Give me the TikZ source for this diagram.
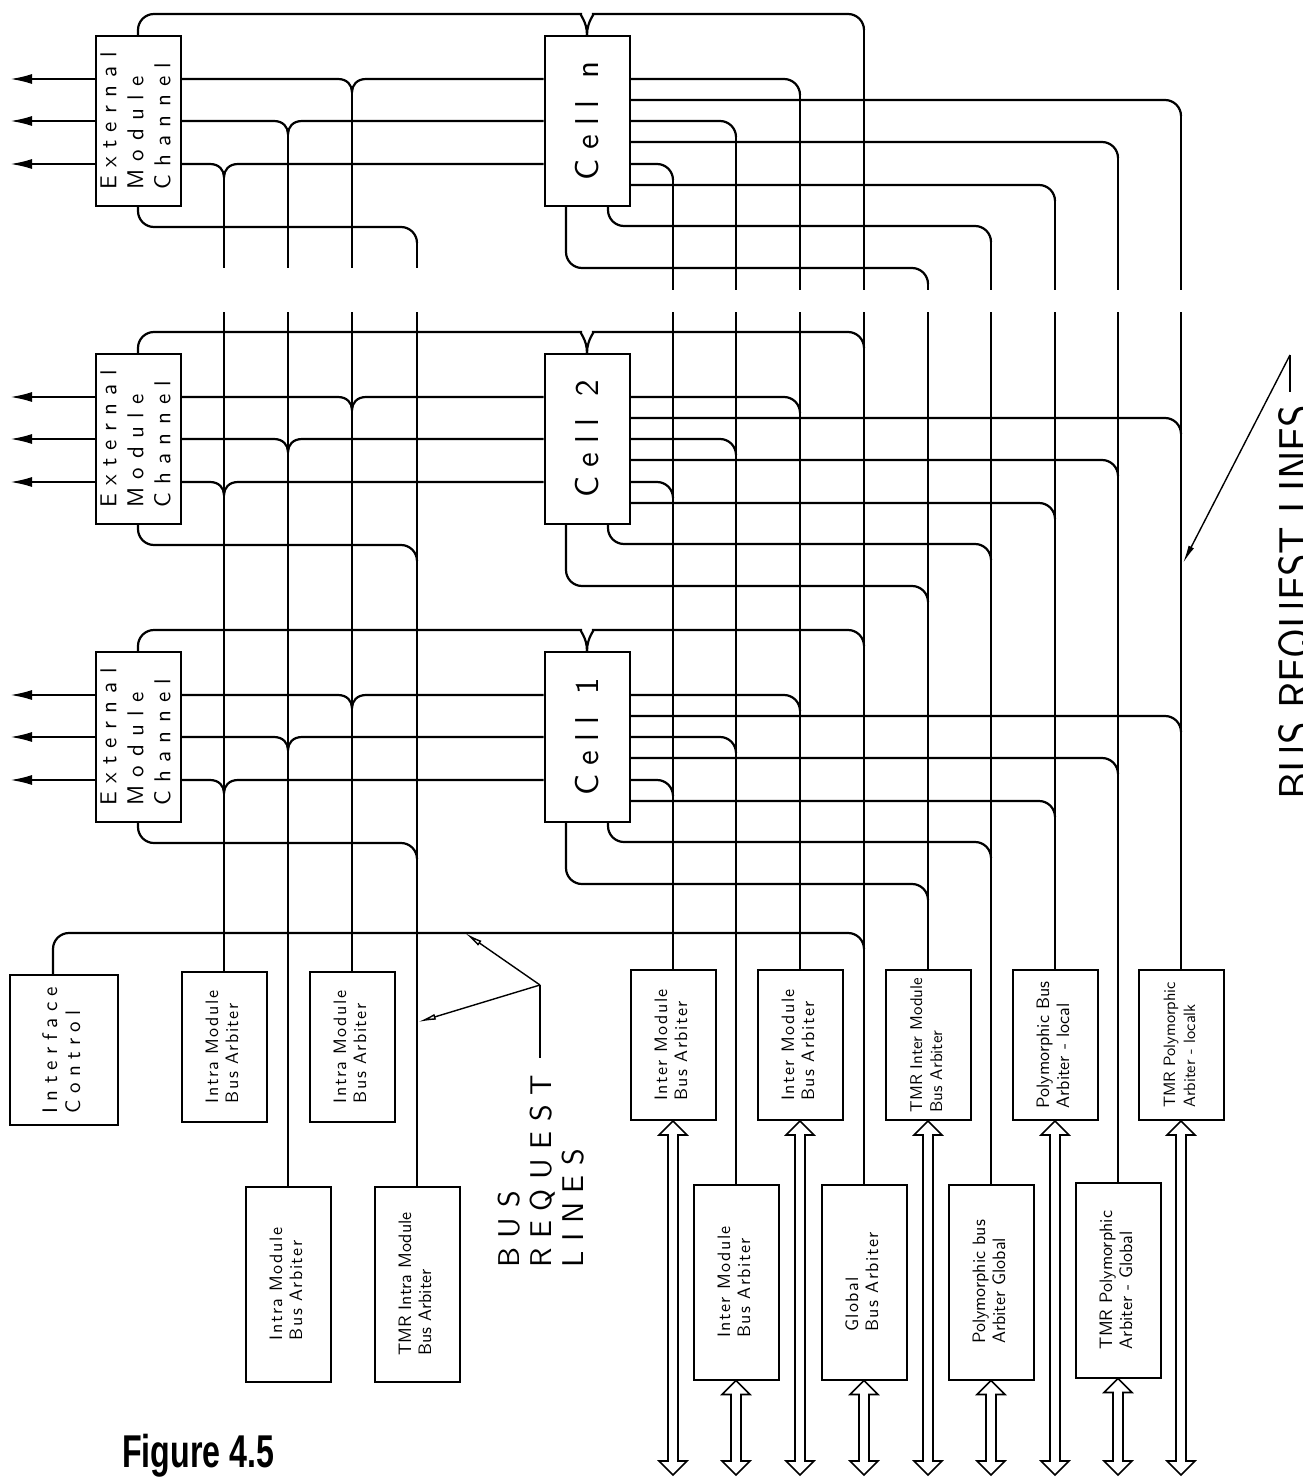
\documentclass[tikz,border=0pt]{standalone}
\usepackage{fontspec}
\usetikzlibrary{arrows.meta,calc}
\newfontfamily\lms{lmsans10-regular.otf}
\newfontfamily\figfont{Liberation Sans}
\newcommand\tk[1]{\addfontfeatures{LetterSpace=#1}}
\newcommand\emctext{\rotatebox{90}{\lms\fontsize{11.5}{13.5}\selectfont\tk{36}\begin{tabular}{@{}l@{}}External\\Module\\Channel\end{tabular}}}
\newcommand\celltext[1]{\rotatebox{90}{\lms\fontsize{16.5}{16}\selectfont\tk{28}Cell\hspace{11pt}#1}}
\newcommand\btxt[4]{\rotatebox{90}{\lms\fontsize{#1}{10}\selectfont\tk{#2}\begin{tabular}{@{}l@{}}#3\\#4\end{tabular}}}
\newcommand\hbus[2]{%
  \coordinate (#2) at (#1.south |- 0,1475);
  \draw[hollow] (#1.south) -- ++(14,14) -- ++(-9,0) -- ($(#2)+(5,-14)$) -- ++(9,0) -- (#2)
     -- ++(-14,-14) -- ++(9,0) -- ($(#1.south)+(-5,14)$) -- ++(-9,0) -- cycle;}
\tikzset{
  box/.style={draw, line width=1pt, inner sep=0pt, minimum width=42.5pt},
  emcbox/.style={box, minimum height=85pt},
  upbox/.style={box, minimum height=75pt},
  lowbox/.style={box, minimum height=97.5pt},
  wire/.style={line width=1.1pt, rounded corners=8pt},
  wirev/.style={line width=1.1pt},
  vline/.style={line width=0.75pt},
  outarrow/.style={line width=1.1pt, -{Latex[length=11pt,width=5pt]}},
  hollow/.style={line width=0.8pt},
  lead/.style={line width=0.7pt},
  leadarrow/.style={line width=0.7pt, -{Latex[open,length=9pt,width=3pt]}},
  leadarrowf/.style={line width=0.7pt, -{Latex[length=9pt,width=3pt]}},
}
\begin{document}
\begin{tikzpicture}[x=0.5pt,y=-0.5pt]
\useasboundingbox (0,0) rectangle (1302,1483);
\fill[white] (0,0) rectangle (1302,1483);
\clip (0,0) rectangle (1302,1483);

% ---------- bottom boxes, upper row ----------
\node[box, minimum width=54pt, minimum height=75pt] (ic) at (64,1050)
  {\rotatebox{90}{\lms\fontsize{10.5}{11.5}\selectfont\tk{30}\begin{tabular}{@{}l@{}}Interface\\Control\end{tabular}}};
\node[upbox] (ia1) at (224,1047) {\btxt{9}{8}{Intra Module}{Bus Arbiter}};
\node[upbox] (ia2) at (352,1047) {\btxt{9}{8}{Intra Module}{Bus Arbiter}};
\node[upbox] (ie1) at (673,1045) {\btxt{9}{8}{Inter Module}{Bus Arbiter}};
\node[upbox] (ie3) at (800,1045) {\btxt{9}{8}{Inter Module}{Bus Arbiter}};
\node[upbox] (tie) at (928,1045) {\btxt{8.5}{0}{TMR Inter Module}{Bus Arbiter}};
\node[upbox] (pbl) at (1055,1045) {\btxt{9}{0}{Polymorphic Bus}{Arbiter - local}};
\node[upbox] (tpl) at (1181,1045) {\btxt{8.2}{0}{TMR Polymorphic}{Arbiter - localk}};
% ---------- bottom boxes, lower row ----------
\node[lowbox] (ia3) at (288,1284) {\btxt{9}{8}{Intra Module}{Bus Arbiter}};
\node[lowbox] (tia) at (417,1284) {\btxt{9}{0}{TMR Intra Module}{Bus Arbiter}};
\node[lowbox] (ie2) at (736,1282) {\btxt{9}{8}{Inter Module}{Bus Arbiter}};
\node[lowbox] (gba) at (864,1282) {\btxt{9}{8}{Global}{Bus Arbiter}};
\node[lowbox] (pbg) at (991,1282) {\btxt{9}{0}{Polymorphic bus}{Arbiter Global}};
\node[lowbox] (tpg) at (1118,1280) {\btxt{9}{0}{TMR Polymorphic}{Arbiter - Global}};

% ---------- the three cell sections ----------
\foreach \sn/\yy/\lab in {N/36/n,2/354/2,1/652/1}{
  \node[emcbox] (emc\sn) at (138,\yy+85) {\emctext};
  \node[emcbox] (cell\sn) at (587,\yy+85) {\celltext{\lab}};
  % outputs to the left
  \foreach \d in {43,85,128}{
    \coordinate (o\sn\d) at (10,\yy+\d);
    \draw[outarrow] (emc\sn.west |- o\sn\d) -- (o\sn\d);
  }
  % channel to cell lines joining the intra module lines
  \foreach \d/\X in {43/352,85/288,128/224}{
    \draw[wirev] (emc\sn.east |- 0,\yy+\d) -- (\X-14,\yy+\d)
      .. controls (\X-5,\yy+\d) and (\X,\yy+\d+6) .. (\X,\yy+\d+13)
      .. controls (\X,\yy+\d+6) and (\X+5,\yy+\d) .. (\X+14,\yy+\d)
      -- (cell\sn.west |- 0,\yy+\d);
  }
  % top line: channel -> cell -> global line
  \draw[wire] (emc\sn.north) |- (565,\yy-22)
     .. controls (579,\yy-22) and (587,\yy-15) .. (cell\sn.north);
  \draw[wire] (cell\sn.north) .. controls (587,\yy-15) and (595,\yy-22) .. (609,\yy-22)
     -- (864,\yy-22) -- (864,\yy-6);
  % channel bottom
  \draw[wire] (emc\sn.south) |- (417,\yy+191) -- (417,\yy+207);
  % cell bottom
  \draw[wire] ($(cell\sn.south)+(21,0)$) |- (991,\yy+190) -- (991,\yy+206);
  \draw[wire] ($(cell\sn.south)+(-21,0)$) |- (928,\yy+232) -- (928,\yy+248);
  % cell right outputs
  \foreach \d/\X in {43/800,64/1181,85/736,106/1118,128/673,149/1055}{
    \draw[wire] (cell\sn.east |- 0,\yy+\d) -- (\X,\yy+\d) -- (\X,\yy+\d+16);
  }
}

% ---------- vertical bus request lines (with the paste-up gap) ----------
\coordinate (j352) at (352,92);   \draw[vline] (j352) -- (352,268) (352,312) -- (ia2.north);
\coordinate (j288) at (288,134);  \draw[vline] (j288) -- (288,268) (288,312) -- (ia3.north);
\coordinate (j224) at (224,177);  \draw[vline] (j224) -- (224,268) (224,312) -- (ia1.north);
\coordinate (j417) at (417,243);  \draw[vline] (j417) -- (417,268) (417,312) -- (tia.north);
\coordinate (j864) at (864,30);   \draw[vline] (j864) -- (864,290) (864,312) -- (gba.north);
\coordinate (j800) at (800,95);   \draw[vline] (j800) -- (800,290) (800,312) -- (ie3.north);
\coordinate (j1181) at (1181,116);\draw[vline] (j1181) -- (1181,290) (1181,312) -- (tpl.north);
\coordinate (j736) at (736,137);  \draw[vline] (j736) -- (736,290) (736,312) -- (ie2.north);
\coordinate (j1118) at (1118,158);\draw[vline] (j1118) -- (1118,290) (1118,312) -- (tpg.north);
\coordinate (j673) at (673,180);  \draw[vline] (j673) -- (673,290) (673,312) -- (ie1.north);
\coordinate (j1055) at (1055,201);\draw[vline] (j1055) -- (1055,290) (1055,312) -- (pbl.north);
\coordinate (j991) at (991,242);  \draw[vline] (j991) -- (991,290) (991,312) -- (pbg.north);
\coordinate (j928) at (928,284);  \draw[vline] (j928) -- (928,290) (928,312) -- (tie.north);

% interface control line
\draw[wire] ($(ic.north)+(-11,0)$) |- (864,933) -- (864,949);

% ---------- hollow bus arrows ----------
\hbus{ie1}{e1} \hbus{ie3}{e3} \hbus{tie}{e4} \hbus{pbl}{e5} \hbus{tpl}{e6}
\hbus{ie2}{e2} \hbus{gba}{e7} \hbus{pbg}{e8} \hbus{tpg}{e9}

% ---------- bus request line labels ----------
\coordinate (v1) at (540,985);
\coordinate (t1) at (465,933);
\coordinate (t2) at (418,1022);
\coordinate (l1) at (540,1058);
\draw[leadarrow] (v1) -- (t1);
\draw[leadarrow] (v1) -- (t2);
\draw[lead] (v1) -- (l1);
\node[anchor=south west, inner sep=0pt] (brl) at (497,1268)
  {\rotatebox{90}{\lms\fontsize{15}{16}\selectfont\tk{32}\begin{tabular}{@{}l@{}}BUS\\REQUEST\\LINES\end{tabular}}};

\coordinate (v2) at (1290,355);
\coordinate (t3) at (1183,563);
\coordinate (l2) at (1290,392);
\draw[leadarrowf] (v2) -- (t3);
\draw[lead] (v2) -- (l2);
\node[rotate=90, anchor=base west, inner sep=0pt] (brr) at (1311,800)
  {\scalebox{0.88}[1]{\lms\fontsize{23}{23}\selectfont BUS REQUEST LINES}};

% ---------- caption ----------
\node[anchor=west, inner sep=0pt, xscale=0.7] (fig) at (122,1456)
  {\figfont\bfseries\fontsize{23}{23}\selectfont Figure 4.5};
\end{tikzpicture}
\end{document}
